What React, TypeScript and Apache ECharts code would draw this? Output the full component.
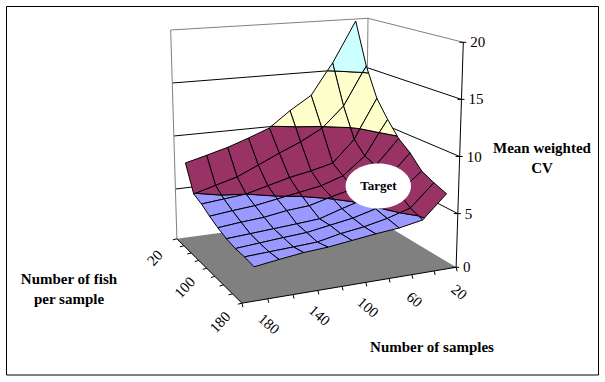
import React, { useEffect, useRef } from "react";
import * as echarts from "echarts";

// ---------- data ----------
const sampleCategories = [20, 40, 60, 80, 100, 120, 140, 160, 180];
const fishCategories = [20, 40, 60, 80, 100, 120, 140, 160, 180];
const sampleLabelled = [20, 60, 100, 140, 180];
const fishLabelled = [20, 100, 180];
const valueTicks = [0, 5, 10, 15, 20];
// one row per number of fish, columns follow sampleCategories
const fish20 = [19.8, 15.74, 12.69, 11.36, 9.85, 9.08, 8.39, 7.85, 7.34];
const fish40 = [15.6, 11.83, 9.84, 8.74, 7.87, 6.95, 6.06, 5.51, 4.95];
const fish60 = [12.8, 9.02, 6.95, 6.44, 6.05, 5.52, 5.0, 4.8, 4.6];
const fish80 = [11.18, 7.9, 6.26, 5.57, 5.2, 4.85, 4.5, 4.31, 4.08];
const fish100 = [9.82, 7.5, 5.6, 5.1, 4.55, 4.37, 4.04, 3.88, 3.67];
const fish120 = [8.96, 6.76, 5.2, 4.6, 3.96, 3.79, 3.64, 3.49, 3.35];
const fish140 = [7.8, 6.1, 4.9, 4.35, 4.0, 3.65, 3.5, 3.33, 3.16];
const fish160 = [7.28, 5.29, 4.65, 4.2, 3.9, 3.47, 3.35, 3.24, 3.13];
const fish180 = [6.86, 4.85, 4.44, 4.22, 3.95, 3.69, 3.54, 3.28, 3.0];
const surface = [fish20, fish40, fish60, fish80, fish100, fish120, fish140, fish160, fish180];
const bands = [
  { lo: 0, hi: 5, color: "#9999FF" },
  { lo: 5, hi: 10, color: "#993366" },
  { lo: 10, hi: 15, color: "#FFFFCC" },
  { lo: 15, hi: 20, color: "#CCFFFF" },
];

// ---------- 3D box projection (image positions of the box corners) ----------
type P = [number, number];
const FLOOR: P[] = [[242, 307], [456, 270.7], [365.6, 216], [177, 242]];
const ROOF: P[] = [[237.7, 52], [463.3, 42.3], [368, 18.3], [170.7, 30]];
const FLOOR_Z = 0.3;
const MAX_Z = 20;

function quad(p: P[]) {
  const [[x0, y0], [x1, y1], [x2, y2], [x3, y3]] = p;
  const dx1 = x1 - x2, dx2 = x3 - x2, sx = x0 - x1 + x2 - x3;
  const dy1 = y1 - y2, dy2 = y3 - y2, sy = y0 - y1 + y2 - y3;
  const det = dx1 * dy2 - dx2 * dy1;
  const g = (sx * dy2 - dx2 * sy) / det;
  const h = (dx1 * sy - sx * dy1) / det;
  const a = x1 - x0 + g * x1, b = x3 - x0 + h * x3;
  const d = y1 - y0 + g * y1, e = y3 - y0 + h * y3;
  return (u: number, v: number): P => {
    const w = g * u + h * v + 1;
    return [(a * u + b * v + x0) / w, (d * u + e * v + y0) / w];
  };
}
const floorAt = quad(FLOOR);
const roofAt = quad(ROOF);
function project(u: number, v: number, z: number): P {
  const f = floorAt(u, v), r = roofAt(u, v), t = z / MAX_Z;
  return [f[0] + (r[0] - f[0]) * t, f[1] + (r[1] - f[1]) * t];
}
// samples are categories (drawn mid-band); fish is a series axis (drawn edge to edge)
const uOf = (i: number) => 1 - (i + 0.5) / sampleCategories.length;
const vOf = (j: number) => 1 - j / (fishCategories.length - 1);

type V3 = [number, number, number];
function clip(poly: V3[], level: number, keepAbove: boolean): V3[] {
  const out: V3[] = [];
  const inside = (p: V3) => (keepAbove ? p[2] >= level : p[2] <= level);
  poly.forEach((cur, k) => {
    const nxt = poly[(k + 1) % poly.length];
    if (inside(cur)) out.push(cur);
    if (inside(cur) !== inside(nxt)) {
      const t = (level - cur[2]) / (nxt[2] - cur[2]);
      out.push([cur[0] + (nxt[0] - cur[0]) * t, cur[1] + (nxt[1] - cur[1]) * t, level]);
    }
  });
  return out;
}

const FONT = "'Liberation Serif', 'Times New Roman', serif";
const GREY = "#808080";

const cellRows: number[][] = [];
for (let j = 0; j < fishCategories.length - 1; j++)
  for (let i = 0; i < sampleCategories.length - 1; i++)
    cellRows.push([i, j, surface[j][i], surface[j][i + 1], surface[j + 1][i + 1], surface[j + 1][i]]);

function renderCell(_: any, api: any) {
  const i = api.value(0), j = api.value(1);
  const quadPts: V3[] = [
    [uOf(i), vOf(j), api.value(2)],
    [uOf(i + 1), vOf(j), api.value(3)],
    [uOf(i + 1), vOf(j + 1), api.value(4)],
    [uOf(i), vOf(j + 1), api.value(5)],
  ];
  const children: any[] = [];
  bands.forEach((b) => {
    let poly = clip(quadPts, b.lo, true);
    if (poly.length) poly = clip(poly, b.hi, false);
    if (poly.length >= 3) {
      children.push({
        type: "polygon",
        shape: { points: poly.map((p) => project(p[0], p[1], p[2])) },
        style: { fill: b.color, stroke: "#000", lineWidth: 1 },
      });
    }
  });
  return { type: "group", children };
}

function wallGroup() {
  const line = (a: P, b: P, stroke: string) => ({
    type: "line",
    shape: { x1: a[0], y1: a[1], x2: b[0], y2: b[1] },
    style: { stroke, lineWidth: 1 },
  });
  const kids: any[] = [];
  kids.push({
    type: "polygon",
    shape: { points: [project(0, 0, FLOOR_Z), project(1, 0, FLOOR_Z), project(1, 1, FLOOR_Z), project(0, 1, FLOOR_Z)] },
    style: { fill: GREY, stroke: "none" },
  });
  valueTicks.filter((t) => t > 0 && t < MAX_Z).forEach((t) => {
    kids.push(line(project(0, 1, t), project(1, 1, t), "#000"));
    kids.push(line(project(1, 1, t), project(1, 0, t), "#000"));
  });
  kids.push(line(project(0, 1, FLOOR_Z), project(0, 1, MAX_Z), GREY));
  kids.push(line(project(1, 1, FLOOR_Z), project(1, 1, MAX_Z), GREY));
  kids.push(line(project(0, 1, MAX_Z), project(1, 1, MAX_Z), GREY));
  kids.push(line(project(1, 1, MAX_Z), project(1, 0, MAX_Z), GREY));
  return { type: "group", children: kids };
}

function axisGroup() {
  const line = (a: P, b: P) => ({
    type: "line",
    shape: { x1: a[0], y1: a[1], x2: b[0], y2: b[1] },
    style: { stroke: "#000", lineWidth: 1 },
  });
  const label = (text: string, p: P, rotation: number) => ({
    type: "text",
    x: p[0],
    y: p[1],
    rotation,
    style: { text, font: `15px ${FONT}`, fill: "#000", align: "center", verticalAlign: "middle" },
  });
  const kids: any[] = [];
  // value axis
  kids.push(line(project(1, 0, FLOOR_Z), project(1, 0, MAX_Z)));
  valueTicks.forEach((t) => {
    const p = project(1, 0, Math.max(t, FLOOR_Z));
    kids.push(line([p[0] - 4, p[1]], [p[0] + 3, p[1]]));
    kids.push({
      type: "text",
      x: p[0] + 7,
      y: p[1],
      style: { text: String(t), font: `15px ${FONT}`, fill: "#000", align: "left", verticalAlign: "middle" },
    });
  });
  // samples axis (front right edge)
  kids.push(line(project(0, 0, FLOOR_Z), project(1, 0, FLOOR_Z)));
  sampleCategories.forEach((s, i) => {
    const e = 1 - i / sampleCategories.length;
    const a = project(e, 0, FLOOR_Z);
    kids.push(line(a, [a[0] + 1, a[1] + 4]));
    if (i === sampleCategories.length - 1) {
      const b = project(0, 0, FLOOR_Z);
      kids.push(line(b, [b[0] + 1, b[1] + 4]));
    }
    if (sampleLabelled.includes(s)) {
      const m = project(uOf(i), 0, FLOOR_Z);
      kids.push(label(String(s), [m[0] + 14, m[1] + 23], -0.72));
    }
  });
  // fish axis (front left edge)
  kids.push(line(project(0, 0, FLOOR_Z), project(0, 1, FLOOR_Z)));
  fishCategories.forEach((f, j) => {
    const a = project(0, vOf(j), FLOOR_Z);
    kids.push(line(a, [a[0] - 4, a[1] + 1]));
    if (fishLabelled.includes(f)) {
      kids.push(label(String(f), [a[0] - 22, a[1] + 19], 0.82));
    }
  });
  return { type: "group", children: kids };
}

export default function App() {
  const ref = useRef<HTMLDivElement>(null);
  useEffect(() => {
    document.body.style.margin = "0";
    const chart = echarts.init(ref.current!, undefined, { renderer: "svg" });
    const title = (text: string, x: number, y: number, size = 15) => ({
      type: "text",
      x,
      y,
      z: 101,
      style: { text, font: `bold ${size}px ${FONT}`, fill: "#000", align: "center", verticalAlign: "middle" },
    });
    chart.setOption({
      animation: false,
      backgroundColor: "#fff",
      graphic: [
        { type: "rect", z: -1, shape: { x: 6.5, y: 6.5, width: 592, height: 368.5 }, style: { fill: "#fff", stroke: "#000", lineWidth: 1 } },
        { type: "ellipse", z: 100, shape: { cx: 378.3, cy: 186, rx: 32.7, ry: 22.5 }, style: { fill: "#fff", stroke: "none" } },
        title("Target", 378.5, 185.5, 13),
        title("Number of fish", 69, 279),
        title("per sample", 69, 299),
        title("Mean weighted", 542, 148),
        title("CV", 542, 168),
        title("Number of samples", 432, 347),
      ],
      series: [
        { type: "custom", coordinateSystem: "none", z: 2, silent: true, data: [[0]], renderItem: wallGroup },
        { type: "custom", coordinateSystem: "none", z: 3, silent: true, data: [[0]], renderItem: axisGroup },
        { type: "custom", coordinateSystem: "none", z: 4, silent: true, data: cellRows, renderItem: renderCell },
      ],
    });
    return () => chart.dispose();
  }, []);
  return <div ref={ref} style={{ width: 605, height: 382 }} />;
}
